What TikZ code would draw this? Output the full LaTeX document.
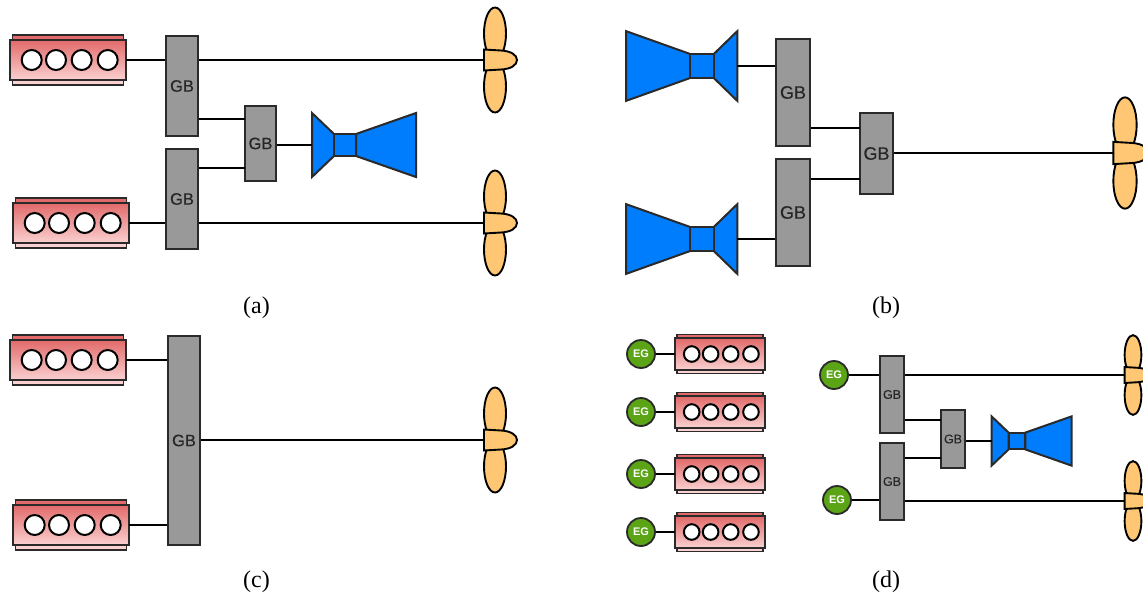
\documentclass[tikz,border=0pt]{standalone}
\usepackage{fontspec}
\setmainfont{Liberation Serif}
\setsansfont{Liberation Sans}
\newfontfamily\gbfont[FakeBold=0.25]{Liberation Sans}
\usepackage{xcolor}
\usepackage{tikz}
\usetikzlibrary{positioning,calc}

\definecolor{gbgray}{HTML}{999999}
\definecolor{edge}{HTML}{2A2A2A}
\definecolor{turbblue}{HTML}{007DFC}
\definecolor{propyellow}{HTML}{FFC674}
\definecolor{enggreen}{HTML}{5AA416}
\definecolor{engtop}{HTML}{E26A6A}
\definecolor{engbot}{HTML}{FAD0D0}

\tikzset{
  gbbox/.style={draw=edge, line width=2pt, fill=gbgray, inner sep=0pt, text=black!85, font=\gbfont\fontsize{16.5}{18}\selectfont},
  egnode/.style={circle, draw=edge, line width=1.8pt, fill=enggreen, minimum size=28pt, inner sep=0pt, text=white, font=\sffamily\bfseries\fontsize{11}{12}\selectfont},
  shaft/.style={line width=2.7pt, black},
  caption/.style={font=\fontsize{24}{26}\selectfont},
  pics/engine/.style={code={
    % cover plates behind the block
    \fill[draw=edge, line width=1.8pt, fill=engtop] (-55.5,-25) rectangle (55.5,0);
    \fill[draw=edge, line width=1.8pt, fill=engbot] (-55.5,0) rectangle (55.5,25);
    \draw[draw=edge, line width=2pt, top color=engtop, bottom color=engbot] (-58,-20) rectangle (58,20);
    \foreach \cx in {-36.3,-12,13.7,39.7}{
      \draw[black, line width=2pt, fill=white] (\cx,0) circle (10);
    }
    \coordinate (-in) at (-58,0);
    \coordinate (-out) at (58,0);
  }},
  pics/turbine/.style={code={
    \draw[edge, line width=2pt, fill=turbblue] (-11,-11) -- (-33,-32) -- (-33,32) -- (-11,11) -- cycle;
    \draw[edge, line width=2pt, fill=turbblue] (11,-11) -- (71,-32) -- (71,32) -- (11,11) -- cycle;
    \draw[edge, line width=2pt, fill=turbblue] (-11,-11) rectangle (11,11);
    \coordinate (-in) at (-33,0);
  }},
  pics/propeller/.style={code={
    \draw[black, line width=1.9pt, fill=propyellow] (0,-26.5) ellipse (11 and 26);
    \draw[black, line width=1.9pt, fill=propyellow] (0,26.5) ellipse (11 and 26);
    \draw[black, line width=1.9pt, fill=propyellow] (-11,-10.5) -- (-11,10.5) -- (6,9.5) .. controls (16,9) and (22,5) .. (22,0) .. controls (22,-5) and (16,-9) .. (6,-9.5) -- cycle;
    \coordinate (-in) at (-11,0);
  }}
}

\begin{document}
\begin{tikzpicture}[x=1pt, y=-1pt]
\useasboundingbox (0,0) rectangle (1143,598);

% Panel (a): two engines, two shafts, turbine through a middle gearbox
\pic (ea1) at (68,60) {engine};
\pic (ea2) at (71,223) {engine};
\node[gbbox, minimum width=32pt, minimum height=100pt] (gba1) at (182,86) {GB};
\node[gbbox, minimum width=32pt, minimum height=100pt] (gba2) at (182,199) {GB};
\node[gbbox, minimum width=31pt, minimum height=75pt] (gba3) at (260.5,143.5) {GB};
\pic (ta) at (345,145) {turbine};
\pic (pa1) at (495,60) {propeller};
\pic (pa2) at (495,223) {propeller};
\coordinate (sa1) at (245,119);
\coordinate (sa2) at (245,168);
\draw[shaft] (ea1-out) -- (ea1-out -| gba1.west);
\draw[shaft] (ea2-out) -- (ea2-out -| gba2.west);
\draw[shaft] (gba1.east |- pa1-in) -- (pa1-in);
\draw[shaft] (gba2.east |- pa2-in) -- (pa2-in);
\draw[shaft] (gba1.east |- sa1) -- (sa1);
\draw[shaft] (gba2.east |- sa2) -- (sa2);
\draw[shaft] (gba3.east |- ta-in) -- (ta-in);
\node[caption] (capa) at (256.5,308) {(a)};

% Panel (b): two turbines, one propeller
\pic[xscale=-1.07, yscale=1.09] (tb1) at (702,66) {turbine};
\pic[xscale=-1.07, yscale=1.09] (tb2) at (702,239) {turbine};
\node[gbbox, minimum width=34pt, minimum height=107pt, font=\gbfont\fontsize{18}{20}\selectfont] (gbb1) at (793,92.5) {GB};
\node[gbbox, minimum width=34pt, minimum height=107pt, font=\gbfont\fontsize{18}{20}\selectfont] (gbb2) at (793,212.5) {GB};
\node[gbbox, minimum width=33pt, minimum height=81pt, font=\gbfont\fontsize{18}{20}\selectfont] (gbb3) at (876.5,153.5) {GB};
\pic[scale=1.06] (pb) at (1125,153) {propeller};
\coordinate (sb1) at (860,128);
\coordinate (sb2) at (860,179);
\draw[shaft] (tb1-in) -- (tb1-in -| gbb1.west);
\draw[shaft] (tb2-in) -- (tb2-in -| gbb2.west);
\draw[shaft] (gbb1.east |- sb1) -- (sb1);
\draw[shaft] (gbb2.east |- sb2) -- (sb2);
\draw[shaft] (gbb3.east |- pb-in) -- (pb-in);
\node[caption] (capb) at (886,308) {(b)};

% Panel (c): two engines on one long gearbox
\pic (ec1) at (68,360) {engine};
\pic (ec2) at (71,525) {engine};
\node[gbbox, minimum width=32pt, minimum height=209pt] (gbc) at (184,440.5) {GB};
\pic (pc) at (495,440) {propeller};
\draw[shaft] (ec1-out) -- (ec1-out -| gbc.west);
\draw[shaft] (ec2-out) -- (ec2-out -| gbc.west);
\draw[shaft] (gbc.east |- pc-in) -- (pc-in);
\node[caption] (capc) at (256.5,582) {(c)};

% Panel (d): generator sets on the left, electric drive on the right
\foreach \n/\y in {1/354, 2/412, 3/474, 4/532}{
  \pic[scale=0.78] (ed\n) at (720,\y) {engine};
  \node[egnode] (egd\n) at (641,\y) {EG};
  \draw[shaft, line width=2.3pt] (egd\n.east) -- (ed\n-in);
}
\node[egnode] (egd5) at (834,375) {EG};
\node[egnode] (egd6) at (837,500) {EG};
\node[gbbox, minimum width=24pt, minimum height=77pt, font=\gbfont\fontsize{12.5}{14}\selectfont] (gbd1) at (892,394.5) {GB};
\node[gbbox, minimum width=24pt, minimum height=77pt, font=\gbfont\fontsize{12.5}{14}\selectfont] (gbd2) at (892,481.5) {GB};
\node[gbbox, minimum width=24pt, minimum height=58pt, font=\gbfont\fontsize{12.5}{14}\selectfont] (gbd3) at (953,439) {GB};
\pic[scale=0.77] (td) at (1017,441) {turbine};
\pic[scale=0.76] (pd1) at (1133,375) {propeller};
\pic[scale=0.76] (pd2) at (1133,501) {propeller};
\coordinate (sd1) at (941,420);
\coordinate (sd2) at (941,458);
\draw[shaft, line width=2.3pt] (egd5.east) -- (egd5.east -| gbd1.west);
\draw[shaft, line width=2.3pt] (egd6.east) -- (egd6.east -| gbd2.west);
\draw[shaft, line width=2.3pt] (gbd1.east |- pd1-in) -- (pd1-in);
\draw[shaft, line width=2.3pt] (gbd2.east |- pd2-in) -- (pd2-in);
\draw[shaft, line width=2.3pt] (gbd1.east |- sd1) -- (sd1);
\draw[shaft, line width=2.3pt] (gbd2.east |- sd2) -- (sd2);
\draw[shaft, line width=2.3pt] (gbd3.east |- td-in) -- (td-in);
\node[caption] (capd) at (886,582) {(d)};

\end{tikzpicture}
\end{document}
